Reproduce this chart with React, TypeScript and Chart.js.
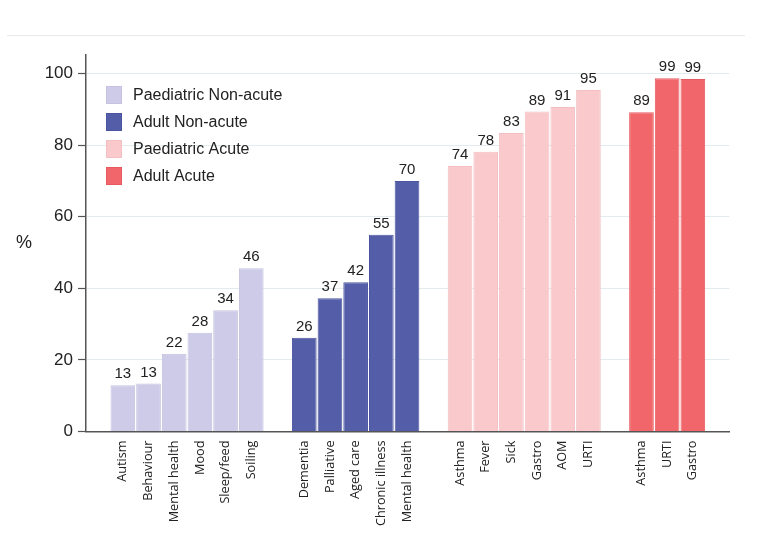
import { useEffect, useRef } from "react";
import { Chart, registerables } from "chart.js";

Chart.register(...registerables);

const paedNonAcuteCats = ["Autism", "Behaviour", "Mental health", "Mood", "Sleep/feed", "Soiling"];
const paedNonAcuteVals = [12.9, 13.4, 21.7, 27.6, 33.9, 45.6];
const adultNonAcuteCats = ["Dementia", "Palliative", "Aged care", "Chronic illness", "Mental health"];
const adultNonAcuteVals = [26.2, 37.2, 41.7, 55.0, 70.0];
const paedAcuteCats = ["Asthma", "Fever", "Sick", "Gastro", "AOM", "URTI"];
const paedAcuteVals = [74.2, 78.2, 83.4, 89.4, 90.7, 95.4];
const adultAcuteCats = ["Asthma", "URTI", "Gastro"];
const adultAcuteVals = [89.2, 98.7, 98.5];
const seriesNames = ["Paediatric Non-acute", "Adult Non-acute", "Paediatric Acute", "Adult Acute"];
const yTicks = [0, 20, 40, 60, 80, 100];

const fills = ["#cdcbe7", "#545ea8", "#f9c9cc", "#f0666a"];
const borders = ["#c4c2e0", "#4c56a0", "#f3bfc3", "#e85a5f"];

const GAP = 1.065;
const FONT = "'Liberation Sans', Arial, sans-serif";

export default function App() {
  const ref = useRef<HTMLCanvasElement | null>(null);

  useEffect(() => {
    if (!ref.current) return;
    const groups = [
      { cats: paedNonAcuteCats, vals: paedNonAcuteVals },
      { cats: adultNonAcuteCats, vals: adultNonAcuteVals },
      { cats: paedAcuteCats, vals: paedAcuteVals },
      { cats: adultAcuteCats, vals: adultAcuteVals },
    ];
    let cursor = 0;
    const tickDefs: { value: number; label: string }[] = [];
    const datasets = groups.map((g, gi) => {
      const data = g.vals.map((v, i) => {
        const x = cursor + i;
        tickDefs.push({ value: x, label: g.cats[i] });
        return { x, y: v };
      });
      cursor += g.cats.length + GAP;
      return {
        label: seriesNames[gi],
        data,
        backgroundColor: fills[gi],
        borderColor: borders[gi],
        borderWidth: 1,
        barPercentage: 0.96,
        categoryPercentage: 1,
        grouped: false,
      };
    });
    const lastPos = tickDefs[tickDefs.length - 1].value;

    const decor = {
      id: "decor",
      beforeDraw(chart: any) {
        const ctx = chart.ctx;
        ctx.save();
        ctx.strokeStyle = "#e6eaec";
        ctx.lineWidth = 1;
        ctx.beginPath();
        ctx.moveTo(7, 35.5);
        ctx.lineTo(745, 35.5);
        ctx.stroke();
        ctx.restore();
      },
      afterDatasetsDraw(chart: any) {
        const ctx = chart.ctx;
        ctx.save();
        ctx.fillStyle = "#222";
        ctx.font = `15px ${FONT}`;
        ctx.textAlign = "center";
        ctx.textBaseline = "alphabetic";
        chart.data.datasets.forEach((ds: any, di: number) => {
          const meta = chart.getDatasetMeta(di);
          meta.data.forEach((el: any, i: number) => {
            ctx.fillText(String(Math.round(ds.data[i].y)), el.x, el.y - 7);
          });
        });
        // legend
        ctx.textAlign = "left";
        ctx.textBaseline = "middle";
        ctx.font = `16px ${FONT}`;
        chart.data.datasets.forEach((ds: any, di: number) => {
          const cy = 95 + di * 27;
          ctx.fillStyle = ds.backgroundColor;
          ctx.fillRect(106, cy - 9, 16, 18);
          ctx.strokeStyle = ds.borderColor;
          ctx.lineWidth = 1;
          ctx.strokeRect(106.5, cy - 8.5, 15, 17);
          ctx.fillStyle = "#222";
          ctx.fillText(ds.label, 133, cy + 1);
        });
        // y-axis title
        const ca = chart.chartArea;
        ctx.textAlign = "center";
        ctx.font = `18px ${FONT}`;
        ctx.fillText("%", 24, (ca.top + ca.bottom) / 2);
        ctx.restore();
      },
    };

    const chart = new Chart(ref.current, {
      type: "bar",
      data: { datasets: datasets as any },
      options: {
        animation: false,
        responsive: true,
        maintainAspectRatio: false,
        layout: { padding: { top: 55, right: 30.7, left: 0, bottom: 0 } },
        plugins: { legend: { display: false }, tooltip: { enabled: false } },
        scales: {
          x: {
            type: "linear",
            offset: false,
            min: -1.435,
            max: lastPos + 1.42,
            grid: { display: false, drawTicks: false, offset: false },
            border: { display: true, color: "#555", width: 1.5 },
            afterBuildTicks: (scale: any) => {
              scale.ticks = tickDefs.map((t) => ({ value: t.value }));
            },
            afterFit: (scale: any) => {
              scale.height = 118.5;
            },
            ticks: {
              autoSkip: false,
              minRotation: 90,
              maxRotation: 90,
              padding: 9,
              color: "#222",
              font: { family: "'Open Sans', sans-serif", size: 12.7 },
              callback: (_v: any, index: number) => tickDefs[index]?.label ?? "",
            },
          },
          y: {
            min: 0,
            max: 105.2,
            afterBuildTicks: (scale: any) => {
              scale.ticks = yTicks.map((v) => ({ value: v }));
            },
            afterFit: (scale: any) => {
              scale.width = 86;
            },
            grid: {
              color: "#e4ebee",
              lineWidth: 1,
              drawTicks: true,
              tickLength: 8,
              tickColor: "#555",
              tickWidth: 1.2,
            },
            border: { display: true, color: "#555", width: 1.5 },
            ticks: {
              padding: 5,
              color: "#222",
              font: { family: FONT, size: 17 },
            },
          },
        },
      },
      plugins: [decor],
    });
    return () => chart.destroy();
  }, []);

  return (
    <div style={{ position: "absolute", left: 0, top: 0, width: 760, height: 550, background: "#fff" }}>
      <canvas ref={ref} />
    </div>
  );
}
